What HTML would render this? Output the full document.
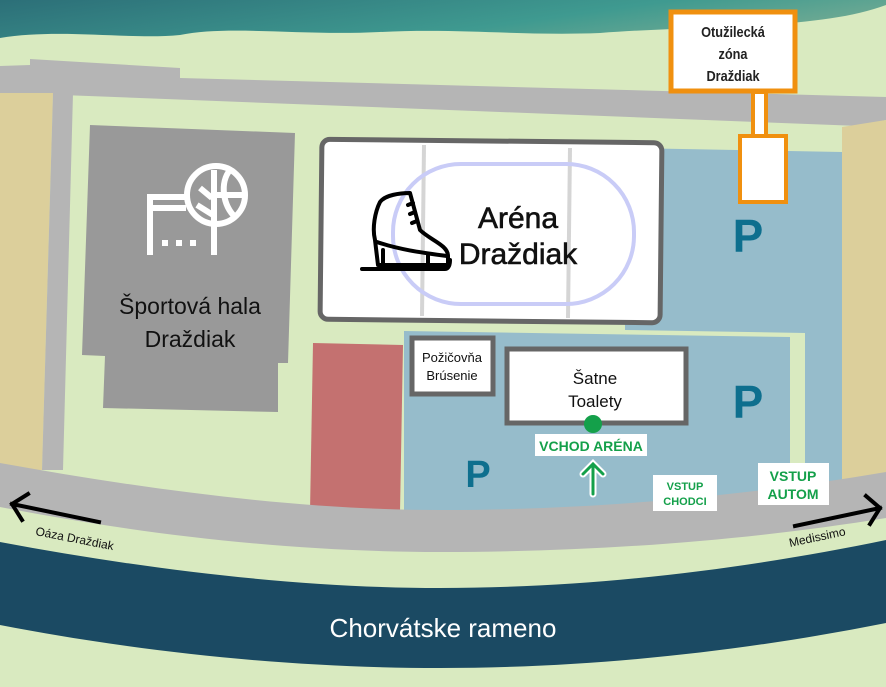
<!DOCTYPE html>
<html><head><meta charset="utf-8"><style>
html,body{margin:0;padding:0;background:#d9eac0;}
svg{display:block;font-family:"Liberation Sans",sans-serif;}
</style></head><body>
<svg width="886" height="687" viewBox="0 0 886 687" xmlns="http://www.w3.org/2000/svg">
<defs>
<linearGradient id="w" x1="0" y1="0" x2="1" y2="0.3">
<stop offset="0" stop-color="#2c6f78"/><stop offset="0.7" stop-color="#3f9a90"/><stop offset="1" stop-color="#6aa892"/>
</linearGradient>
</defs>
<rect width="886" height="687" fill="#d9eac0"/>
<path d="M0 0 H886 V5 C820 30 700 25 600 33 C520 36 460 28 380 32 C300 36 230 25 180 35 C130 40 60 28 0 38 Z" fill="url(#w)"/>
<path d="M0 66 L30 65 L30 59 L180 68 L180 78 L886 97 L886 120 L860 126 L500 112 L62 95 L0 93 Z" fill="#b5b5b5"/>
<path d="M0 93 L53 93 L42 470 L0 470 Z" fill="#dccf9b"/>
<path d="M53 93 L73 93 L63 470 L42 470 Z" fill="#b5b5b5"/>
<path d="M842 127 L886 120 L886 480 L842 480 Z" fill="#dccf9b"/>
<path d="M625 148 L842 152 L842 500 L805 500 L805 333 L625 330 Z" fill="#96bccb"/>
<path d="M404 331 L790 337 L790 512 L404 512 Z" fill="#96bccb"/>
<path d="M313 343 L403 345 L400 512 L310 512 Z" fill="#c47170"/>
<path d="M90 125 L295 133 L288 363 L278 363 L278 412 L103 408 L105 356 L82 355 Z" fill="#999"/>
<g stroke="#fff" stroke-width="6" fill="none">
<path d="M150 255 V197 H186 M150 208 H186"/>
<circle cx="216" cy="195" r="29"/><path d="M214 170 V255"/><path d="M214 195 H244"/>
<path d="M230 170 C220 182 222 205 236 218"/><path d="M200 188 L212 198 M197 205 L213 215"/>
</g>
<g fill="#fff"><rect x="162" y="240" width="6" height="6"/><rect x="176" y="240" width="6" height="6"/><rect x="190" y="240" width="6" height="6"/></g>
<text x="190" y="314" font-size="23" text-anchor="middle" fill="#111">Športová hala</text>
<text x="190" y="347" font-size="23" text-anchor="middle" fill="#111">Draždiak</text>
<rect x="321" y="141" width="340" height="180" rx="8" fill="#fff" stroke="#666" stroke-width="5" transform="rotate(0.6 490 230)"/>
<line x1="424" y1="145" x2="422" y2="316" stroke="#d5d5d5" stroke-width="4"/>
<line x1="570" y1="148" x2="568" y2="318" stroke="#d5d5d5" stroke-width="4"/>
<rect x="393" y="164" width="241" height="140" rx="68" fill="none" stroke="#c9ccf7" stroke-width="4"/>
<g stroke="#000" stroke-width="4" fill="none" stroke-linecap="round" stroke-linejoin="round">
<path d="M380 202 C385 195 400 193 410 193 L420 230 C430 240 448 245 448 256 L448 265 L378 265 L375 240 C372 228 375 212 380 202 Z"/>
<path d="M377 242 C400 250 425 253 447 256"/>
<path d="M362 269 H445 C449 269 450 264 450 260"/>
<path d="M383 250 V267 M428 255 V267"/>
<path d="M408 205 l5 -2 M410 214 l5 -2 M412 223 l5 -2"/>
</g>
<text x="518" y="228" font-size="30" text-anchor="middle" fill="#111" stroke="#111" stroke-width="0.6">Aréna</text>
<text x="518" y="264" font-size="30" text-anchor="middle" fill="#111" stroke="#111" stroke-width="0.6">Draždiak</text>
<rect x="412" y="338" width="81" height="56" fill="#fff" stroke="#666" stroke-width="5"/>
<text x="452" y="362" font-size="13" text-anchor="middle" fill="#111">Požičovňa</text>
<text x="452" y="380" font-size="13" text-anchor="middle" fill="#111">Brúsenie</text>
<rect x="507" y="349" width="179" height="74" fill="#fff" stroke="#666" stroke-width="5"/>
<text x="595" y="384" font-size="17" text-anchor="middle" fill="#111">Šatne</text>
<text x="595" y="407" font-size="17" text-anchor="middle" fill="#111">Toalety</text>
<circle cx="593" cy="424" r="9" fill="#14a04a"/>
<rect x="535" y="434" width="112" height="22" fill="#fff"/>
<text x="591" y="451" font-size="14" font-weight="bold" text-anchor="middle" fill="#14a04a">VCHOD ARÉNA</text>
<g stroke="#fff" stroke-width="7" fill="none" stroke-linecap="round"><path d="M593 494 V465 M583 474 L593 464 L603 474"/></g>
<g stroke="#14a04a" stroke-width="3" fill="none" stroke-linecap="round"><path d="M593 494 V465 M583 474 L593 464 L603 474"/></g>
<g fill="#0e6f8e" font-weight="bold">
<text x="748" y="252" font-size="46" text-anchor="middle">P</text>
<text x="748" y="418" font-size="46" text-anchor="middle">P</text>
<text x="478" y="487" font-size="38" text-anchor="middle">P</text>
</g>
<path d="M0 463 C150 490 300 510 440 510 C600 510 750 495 886 472 L886 518 C750 540 600 552 440 552 C280 552 130 532 0 507 Z" fill="#b5b5b5"/>
<rect x="653" y="475" width="64" height="36" fill="#fff"/>
<text x="685" y="490" font-size="11" font-weight="bold" text-anchor="middle" fill="#14a04a">VSTUP</text>
<text x="685" y="505" font-size="11" font-weight="bold" text-anchor="middle" fill="#14a04a">CHODCI</text>
<rect x="758" y="463" width="71" height="42" fill="#fff"/>
<text x="793" y="481" font-size="14" font-weight="bold" text-anchor="middle" fill="#14a04a">VSTUP</text>
<text x="793" y="499" font-size="14" font-weight="bold" text-anchor="middle" fill="#14a04a">AUTOM</text>
<path d="M0 542 C150 570 300 588 440 588 C600 588 750 568 886 540 L886 623 C750 650 600 668 440 668 C280 668 130 650 0 625 Z" fill="#1b4a63"/>
<text x="443" y="637" font-size="26" text-anchor="middle" fill="#fff">Chorvátske rameno</text>
<g stroke="#000" stroke-width="4" fill="none" stroke-linecap="square">
<path d="M99 522 L12 504 M28 494 L12 504 L22 520"/>
<path d="M795 526 L880 508 M866 496 L880 508 L870 524"/>
</g>
<text x="35" y="535" font-size="12" fill="#111" transform="rotate(11 35 535)">Oáza Draždiak</text>
<text x="790" y="547" font-size="12" fill="#111" transform="rotate(-12 790 547)">Medissimo</text>
<rect x="753" y="92" width="13" height="44" fill="#fff" stroke="#f0900f" stroke-width="4"/>
<rect x="740" y="136" width="46" height="66" fill="#fff" stroke="#f0900f" stroke-width="4"/>
<rect x="671" y="12" width="124" height="79" fill="#fff" stroke="#f0900f" stroke-width="5"/>
<g font-size="15" font-weight="bold" fill="#222" text-anchor="middle">
<text x="733" y="37" transform="translate(733 0) scale(0.85 1) translate(-733 0)">Otužilecká</text>
<text x="733" y="59" transform="translate(733 0) scale(0.85 1) translate(-733 0)">zóna</text>
<text x="733" y="81" transform="translate(733 0) scale(0.85 1) translate(-733 0)">Draždiak</text>
</g>
</svg>
</body></html>
